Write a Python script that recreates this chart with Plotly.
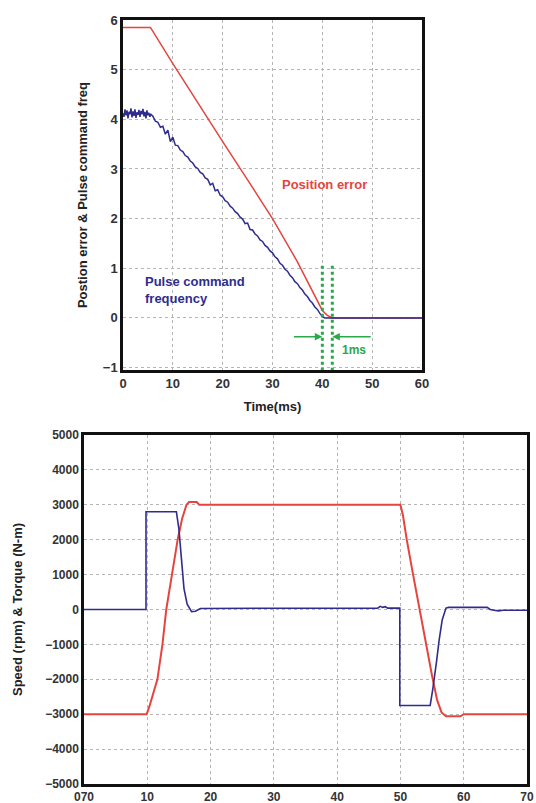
import plotly.graph_objects as go

# ---- top chart: position error & pulse command frequency ----
pos_t = [0, 5.5, 10, 15, 20, 25, 30, 35, 38, 40, 41, 42, 60]
pos_err = [5.85, 5.85, 5.12, 4.33, 3.55, 2.78, 2.0, 1.13, 0.55, 0.15, 0.05, 0.0, 0.0]

pulse_t = [0, 0.2, 0.4, 0.6, 0.8, 1.0, 1.2, 1.4, 1.6, 1.8, 2.0, 2.2, 2.4, 2.6, 2.8,
           3.0, 3.2, 3.4, 3.6, 3.8, 4.0, 4.2, 4.4, 4.6, 4.8, 5.0, 5.2, 5.4, 5.6,
           6.0, 6.5, 7.0, 7.5, 8.0, 8.5, 9.0, 9.5, 10.0, 10.5, 11.0, 11.5, 12.0, 12.5,
           13.0, 13.5, 14.0, 14.5, 15.0, 15.5, 16.0, 16.5, 17.0, 17.5, 18.0, 18.5,
           19.0, 19.5, 20.0, 20.5, 21.0, 21.5, 22.0, 22.5, 23.0, 23.5, 24.0, 24.5,
           25.0, 25.5, 26.0, 26.5, 27.0, 27.5, 28.0, 28.5, 29.0, 29.5, 30.0, 30.5,
           31.0, 31.5, 32.0, 32.5, 33.0, 33.5, 34.0, 34.5, 35.0, 35.5, 36.0, 36.5,
           37.0, 37.5, 38.0, 38.5, 39.0, 39.5, 40.0, 40.5, 60]
pulse_freq = [4.12, 4.05, 4.2, 4.08, 4.18, 4.02, 4.15, 4.1, 4.22, 4.04, 4.16, 4.07, 4.2, 4.03, 4.14,
              4.09, 4.19, 4.05, 4.17, 4.1, 4.21, 4.06, 4.15, 4.02, 4.18, 4.08, 4.13, 4.05, 4.1,
              4.06, 3.96, 3.94, 3.84, 3.86, 3.70, 3.78, 3.55, 3.64, 3.48, 3.47, 3.38, 3.35, 3.27,
              3.24, 3.16, 3.12, 3.04, 3.01, 2.93, 2.90, 2.82, 2.79, 2.68, 2.71, 2.56,
              2.58, 2.47, 2.44, 2.36, 2.33, 2.25, 2.21, 2.14, 2.10, 2.03, 1.99, 1.90,
              1.91, 1.78, 1.77, 1.69, 1.65, 1.57, 1.54, 1.46, 1.42, 1.35, 1.31, 1.23,
              1.19, 1.10, 1.06, 0.98, 0.94, 0.86, 0.81, 0.73, 0.69, 0.61, 0.56, 0.48,
              0.43, 0.35, 0.30, 0.22, 0.17, 0.09, 0.03, 0.0, 0.0]

marker_t = [40, 42]          # green dotted markers (1 ms window)
marker_y = [1.05, -1.05]

# ---- bottom chart: speed & torque ----
speed_t = [0, 9.9, 10.3, 11.6, 12.4, 13.0, 13.9, 14.8, 15.5, 16.2, 16.6, 17.8, 18.2,
           50, 50.4, 51, 52, 53, 54, 55, 55.8, 56.5, 57.2, 59.5, 60, 70]
speed = [-3000, -3000, -2800, -2000, -1000, 0, 1000, 2000, 2600, 3000, 3080, 3080, 3000,
         3000, 2700, 2000, 1000, 0, -1000, -1900, -2600, -2950, -3060, -3060, -3000, -3000]

torque_t = [0, 9.8, 9.8, 14.6, 15.0, 15.4, 15.8, 16.3, 17.0, 17.6, 18.4, 46.4, 46.8, 47.2,
            47.6, 48, 49.9, 49.9, 54.7, 55.1, 55.4, 55.7, 56.1, 56.6, 57.2, 57.6, 63.7, 64.2,
            64.8, 65.5, 66.2, 70]
torque = [0, 0, 2800, 2800, 2300, 1400, 600, 150, -60, -50, 30, 40, 90, 60,
          80, 40, 40, -2750, -2750, -2300, -1800, -1500, -900, -300, 40, 60, 60, 0,
          -20, -40, -20, -20]

bottom_ticks = [0, 10, 20, 30, 40, 50, 60, 70]
bottom_ticktext = ["070", "10", "20", "30", "40", "50", "60", "70"]

RED = "#e4453f"
BLUE = "#2e2d8e"
GREEN = "#2aa84a"
FONT = "Liberation Sans"

fig = go.Figure()

fig.add_trace(go.Scatter(x=pos_t, y=pos_err, mode="lines",
                         line=dict(color=RED, width=1.5), xaxis="x", yaxis="y"))
fig.add_trace(go.Scatter(x=pulse_t, y=pulse_freq, mode="lines",
                         line=dict(color=BLUE, width=1.5), xaxis="x", yaxis="y"))
for t in marker_t:
    fig.add_trace(go.Scatter(x=[t, t], y=marker_y, mode="lines",
                             line=dict(color=GREEN, width=3, dash="dot"),
                             xaxis="x", yaxis="y"))

fig.add_trace(go.Scatter(x=speed_t, y=speed, mode="lines",
                         line=dict(color=RED, width=2), xaxis="x2", yaxis="y2"))
fig.add_trace(go.Scatter(x=torque_t, y=torque, mode="lines",
                         line=dict(color=BLUE, width=1.6), xaxis="x2", yaxis="y2"))

axis_common = dict(
    showgrid=True, gridcolor="#b5b5b5", griddash="dot", gridwidth=1,
    showline=True, linecolor="#111", mirror=True, zeroline=False,
    ticks="", automargin=False, ticklabeloverflow="allow",
)

fig.update_layout(
    width=536, height=803,
    margin=dict(l=0, r=0, t=0, b=0),
    paper_bgcolor="white", plot_bgcolor="white",
    showlegend=False,
    font=dict(family=FONT, color="#333"),
    xaxis=dict(axis_common, domain=[0.2295, 0.7873], range=[0, 60], anchor="y",
               tickvals=[0, 10, 20, 30, 40, 50, 60], linewidth=2.5,
               tickfont=dict(size=13, weight="bold", color="#333"),
               title=dict(text="Time(ms)", standoff=12,
                          font=dict(size=13, weight="bold", color="#222"))),
    yaxis=dict(axis_common, domain=[0.5392, 0.9751], range=[-1.05, 6], anchor="x",
               tickvals=[-1, 0, 1, 2, 3, 4, 5, 6], linewidth=2.5,
               tickfont=dict(size=13, weight="bold", color="#333"),
               title=dict(text="Postion error & Pulse command freq", standoff=13,
                          font=dict(size=13, weight="bold", color="#222"))),
    xaxis2=dict(axis_common, domain=[0.1567, 0.9832], range=[0, 70], anchor="y2",
                tickvals=bottom_ticks, ticktext=bottom_ticktext, linewidth=2.5,
                tickfont=dict(size=12, weight="bold", color="#333")),
    yaxis2=dict(axis_common, domain=[0.0237, 0.4583], range=[-5000, 5000], anchor="x2",
                dtick=1000, linewidth=2.5,
                tickfont=dict(size=12, weight="bold", color="#333"),
                title=dict(text="Speed (rpm) & Torque (N-m)", standoff=20,
                           font=dict(size=13, weight="bold", color="#222"))),
)

fig.add_annotation(x=40.5, y=2.68, xref="x", yref="y", text="Position error",
                   showarrow=False, font=dict(size=13, color=RED, weight="bold"))
fig.add_annotation(x=4, y=0.57, xref="x", yref="y", xanchor="left", align="left",
                   text="Pulse command<br>frequency", showarrow=False,
                   font=dict(size=13, color=BLUE, weight="bold"))
fig.add_annotation(x=40, y=-0.38, ax=34, ay=-0.38, xref="x", yref="y",
                   axref="x", ayref="y", text="", showarrow=True,
                   arrowhead=2, arrowsize=1, arrowwidth=1.5, arrowcolor=GREEN)
fig.add_annotation(x=42, y=-0.38, ax=50, ay=-0.38, xref="x", yref="y",
                   axref="x", ayref="y", text="", showarrow=True,
                   arrowhead=2, arrowsize=1, arrowwidth=1.5, arrowcolor=GREEN)
fig.add_annotation(x=46.3, y=-0.65, xref="x", yref="y", text="1ms",
                   showarrow=False, font=dict(size=12, color=GREEN, weight="bold"))

# drop the default page margin so the figure sits at the window's top-left corner
fig.write_html("out.html", config={"displayModeBar": False},
               post_script="document.body.style.margin='0';document.body.style.overflow='hidden';")
